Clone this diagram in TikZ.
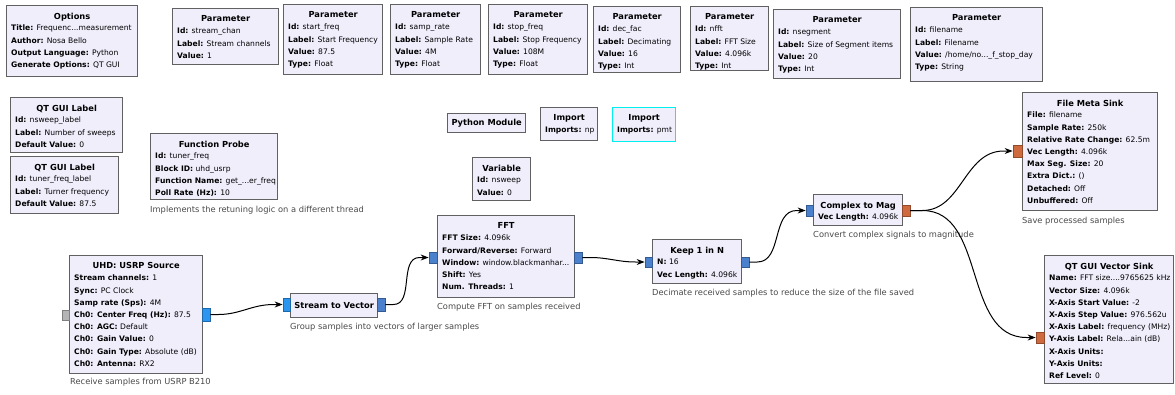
\documentclass[tikz,border=0pt]{standalone}
\usepackage{fontspec}
\setmainfont{DejaVu Sans}
\usetikzlibrary{arrows.meta}
\definecolor{blkfill}{HTML}{F1EEFC}
\definecolor{blkdraw}{HTML}{616161}
\definecolor{selcol}{HTML}{00F0F0}
\definecolor{cplx}{HTML}{2B95F0}
\definecolor{cvec}{HTML}{4A80CC}
\definecolor{fvec}{HTML}{CF6A3E}
\definecolor{gport}{HTML}{B4B4B4}
\definecolor{capt}{HTML}{4A4A4A}
\newcommand\kv[2]{\textbf{#1:} #2}
\tikzset{
  blockbox/.style={draw=blkdraw, fill=blkfill, line width=1.3pt, inner sep=0pt, anchor=north west},
  titletext/.style={inner sep=0pt, anchor=north, font=\fontsize{8.3}{9}\selectfont\bfseries},
  blocktext/.style={inner sep=0pt, anchor=north west, align=left, font=\fontsize{7.6}{12.2}\selectfont},
  captiontext/.style={inner sep=0pt, anchor=west, text=capt, font=\fontsize{8.3}{9}\selectfont},
  port/.style={draw=#1!70!black, fill=#1, line width=0.7pt, inner sep=0pt},
  wire/.style={line width=1pt, -{Stealth[length=8pt,width=6pt]}}
}
% #1 options, #2 name, #3 x, #4 y, #5 w, #6 h, #7 title, #8 body
\newcommand\grcblock[8][]{%
  \node[blockbox, minimum width=#5pt, minimum height=#6pt, #1] (#2) at (#3,#4) {};
  \node[titletext] (#2-t) at ([yshift=-7.5pt]#2.north) {#7};
  \node[blocktext] (#2-b) at ([xshift=5pt,yshift=-20pt]#2.north west) {#8};
}
\newcommand\grcsimple[6]{%
  \node[blockbox, minimum width=#4pt, minimum height=#5pt] (#1) at (#2,#3) {};
  \node[titletext, anchor=center] (#1-t) at (#1.center) {#6};
}
\begin{document}
\begin{tikzpicture}[x=1pt,y=-1pt]
\useasboundingbox (0,0) rectangle (1175,394);
\fill[white] (0,0) rectangle (1175,394);

% top row
\grcblock{opts}{6}{5}{131}{71}{Options}{\kv{Title}{Frequenc...measurement}\\\kv{Author}{Nosa Bello}\\\kv{Output Language}{Python}\\\kv{Generate Options}{QT GUI}}
\grcblock{pstream}{172}{8}{106}{56}{Parameter}{\kv{Id}{stream\_chan}\\\kv{Label}{Stream channels}\\\kv{Value}{1}}
\grcblock{pstart}{283}{4}{99}{70}{Parameter}{\kv{Id}{start\_freq}\\\kv{Label}{Start Frequency}\\\kv{Value}{87.5}\\\kv{Type}{Float}}
\grcblock{psamp}{390}{4}{90}{70}{Parameter}{\kv{Id}{samp\_rate}\\\kv{Label}{Sample Rate}\\\kv{Value}{4M}\\\kv{Type}{Float}}
\grcblock{pstop}{488}{4}{99}{70}{Parameter}{\kv{Id}{stop\_freq}\\\kv{Label}{Stop Frequency}\\\kv{Value}{108M}\\\kv{Type}{Float}}
\grcblock{pdec}{593}{6}{87}{66}{Parameter}{\kv{Id}{dec\_fac}\\\kv{Label}{Decimating}\\\kv{Value}{16}\\\kv{Type}{Int}}
\grcblock{pnfft}{690}{6}{78}{64}{Parameter}{\kv{Id}{nfft}\\\kv{Label}{FFT Size}\\\kv{Value}{4.096k}\\\kv{Type}{Int}}
\grcblock{pnseg}{773}{9}{127}{69}{Parameter}{\kv{Id}{nsegment}\\\kv{Label}{Size of Segment items}\\\kv{Value}{20}\\\kv{Type}{Int}}
\grcblock{pfile}{910}{7}{132}{74}{Parameter}{\kv{Id}{filename}\\\kv{Label}{Filename}\\\kv{Value}{/home/no...\_f\_stop\_day}\\\kv{Type}{String}}

% left middle
\grcblock{labns}{10}{97}{112}{55}{QT GUI Label}{\kv{Id}{nsweep\_label}\\\kv{Label}{Number of sweeps}\\\kv{Default Value}{0}}
\grcblock{labtf}{10}{156}{108}{57}{QT GUI Label}{\kv{Id}{tuner\_freq\_label}\\\kv{Label}{Turner frequency}\\\kv{Default Value}{87.5}}
\grcblock{fprobe}{150}{133}{127}{66}{Function Probe}{\kv{Id}{tuner\_freq}\\\kv{Block ID}{uhd\_usrp}\\\kv{Function Name}{get\_...er\_freq}\\\kv{Poll Rate (Hz)}{10}}
\node[captiontext] (fprobe-c) at (150,210) {Implements the retuning logic on a different thread};

% misc
\grcsimple{pymod}{447}{113}{78}{19}{Python Module}
\grcblock{impnp}{540}{107}{57}{33}{Import}{\kv{Imports}{np}}
\grcblock[draw=selcol]{imppmt}{612}{107}{63}{34}{Import}{\kv{Imports}{pmt}}
\grcblock{var}{472}{157}{58}{43}{Variable}{\kv{Id}{nsweep}\\\kv{Value}{0}}

% signal chain
\grcblock{usrp}{69}{255}{133}{118}{UHD: USRP Source}{\kv{Stream channels}{1}\\\kv{Sync}{PC Clock}\\\kv{Samp rate (Sps)}{4M}\\\kv{Ch0: Center Freq (Hz)}{87.5}\\\kv{Ch0: AGC}{Default}\\\kv{Ch0: Gain Value}{0}\\\kv{Ch0: Gain Type}{Absolute (dB)}\\\kv{Ch0: Antenna}{RX2}}
\node[captiontext] (usrp-c) at (70,382) {Receive samples from USRP B210};

\grcsimple{s2v}{290}{293}{87}{24}{Stream to Vector}
\node[captiontext] (s2v-c) at (290,327) {Group samples into vectors of larger samples};

\grcblock{fft}{437}{215}{137}{82}{FFT}{\kv{FFT Size}{4.096k}\\\kv{Forward/Reverse}{Forward}\\\kv{Window}{window.blackmanhar...}\\\kv{Shift}{Yes}\\\kv{Num. Threads}{1}}
\node[captiontext] (fft-c) at (437,307) {Compute FFT on samples received};

\grcblock{keep}{652}{239}{89}{44}{Keep 1 in N}{\kv{N}{16}\\\kv{Vec Length}{4.096k}}
\node[captiontext] (keep-c) at (652,293) {Decimate received samples to reduce the size of the file saved};

\grcblock{c2m}{813}{194}{89}{31}{Complex to Mag}{\kv{Vec Length}{4.096k}}
\node[captiontext] (c2m-c) at (813,235) {Convert complex signals to magnitude};

\grcblock{fmeta}{1022}{92}{135}{118}{File Meta Sink}{\kv{File}{filename}\\\kv{Sample Rate}{250k}\\\kv{Relative Rate Change}{62.5m}\\\kv{Vec Length}{4.096k}\\\kv{Max Seg. Size}{20}\\\kv{Extra Dict.}{()}\\\kv{Detached}{Off}\\\kv{Unbuffered}{Off}}
\node[captiontext] (fmeta-c) at (1022,221) {Save processed samples};

\grcblock{vsink}{1044}{255}{129}{128}{QT GUI Vector Sink}{\kv{Name}{FFT size....9765625 kHz}\\\kv{Vector Size}{4.096k}\\\kv{X-Axis Start Value}{-2}\\\kv{X-Axis Step Value}{976.562u}\\\kv{X-Axis Label}{frequency (MHz)}\\\kv{Y-Axis Label}{Rela...ain (dB)}\\\kv{X-Axis Units}{}\\\kv{Y-Axis Units}{}\\\kv{Ref Level}{0}}

% ports
\node[port=gport, minimum width=7pt, minimum height=10pt] (usrp-i) at (65.5,315) {};
\node[port=cplx, minimum width=8pt, minimum height=13pt] (usrp-o) at (206,314.5) {};
\node[port=cplx, minimum width=7pt, minimum height=13pt] (s2v-i) at (286.5,304.5) {};
\node[port=cvec, minimum width=8pt, minimum height=13pt] (s2v-o) at (381,304.5) {};
\node[port=cvec, minimum width=8pt, minimum height=11pt] (fft-i) at (433,257.5) {};
\node[port=cvec, minimum width=8pt, minimum height=11pt] (fft-o) at (578,257.5) {};
\node[port=cvec, minimum width=7pt, minimum height=10pt] (keep-i) at (648.5,262) {};
\node[port=cvec, minimum width=8pt, minimum height=10pt] (keep-o) at (745,262) {};
\node[port=cvec, minimum width=7pt, minimum height=11pt] (c2m-i) at (809.5,210.5) {};
\node[port=fvec, minimum width=8pt, minimum height=11pt] (c2m-o) at (906,210.5) {};
\node[port=fvec, minimum width=9pt, minimum height=12pt] (fm-i) at (1017.5,151) {};
\node[port=fvec, minimum width=8pt, minimum height=11pt] (vs-i) at (1040,337.5) {};

% wires
\draw[wire] (usrp-o.east) -- ++(8,0) to[out=0,in=180] ([xshift=-9pt]s2v-i.west) -- (s2v-i.west);
\draw[wire] (s2v-o.east) -- ++(8,0) to[out=0,in=180] ([xshift=-9pt]fft-i.west) -- (fft-i.west);
\draw[wire] (fft-o.east) -- ++(8,0) to[out=0,in=180] ([xshift=-9pt]keep-i.west) -- (keep-i.west);
\draw[wire] (keep-o.east) -- ++(8,0) to[out=0,in=180] ([xshift=-9pt]c2m-i.west) -- (c2m-i.west);
\draw[wire] (c2m-o.east) -- ++(12,0) to[out=0,in=180] ([xshift=-9pt]fm-i.west) -- (fm-i.west);
\draw[wire] (c2m-o.east) -- ++(12,0) to[out=0,in=180] ([xshift=-9pt]vs-i.west) -- (vs-i.west);
\end{tikzpicture}
\end{document}
